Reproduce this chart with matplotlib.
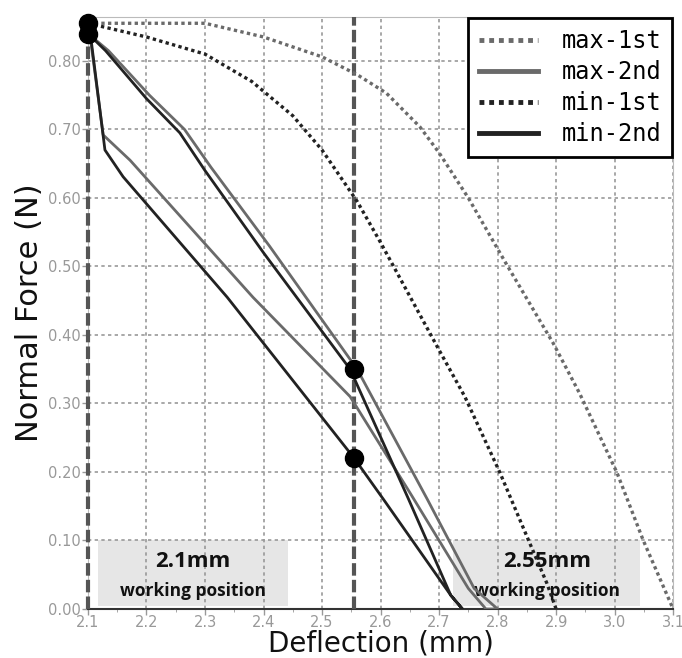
import numpy as np
import matplotlib.pyplot as plt
from matplotlib.patches import Rectangle

# Curvas (deflexión en mm, fuerza en N)
max1_x = [2.10, 2.20, 2.30, 2.40, 2.50, 2.56, 2.61, 2.667, 2.70, 2.75, 2.816, 2.895, 2.94, 3.004, 3.049, 3.10]
max1_y = [0.855, 0.855, 0.855, 0.835, 0.806, 0.78, 0.753, 0.704, 0.666, 0.60, 0.502, 0.388, 0.315, 0.199, 0.10, 0.0]

min1_x = [2.10, 2.20, 2.30, 2.38, 2.45, 2.50, 2.56, 2.60, 2.70, 2.744, 2.804, 2.855, 2.884, 2.90]
min1_y = [0.855, 0.835, 0.81, 0.77, 0.72, 0.67, 0.595, 0.535, 0.378, 0.31, 0.199, 0.096, 0.038, 0.0]

# ciclo carga / descarga (2do ensayo)
max2_x = [2.10, 2.135, 2.205, 2.265, 2.31, 2.41, 2.56, 2.68, 2.76, 2.80,
          2.78, 2.75, 2.65, 2.548, 2.382, 2.172, 2.126, 2.103]
max2_y = [0.84, 0.815, 0.75, 0.70, 0.645, 0.53, 0.35, 0.16, 0.03, 0.0,
          0.0, 0.03, 0.17, 0.31, 0.455, 0.655, 0.692, 0.84]

min2_x = [2.10, 2.13, 2.20, 2.257, 2.30, 2.40, 2.548, 2.648, 2.72, 2.74,
          2.72, 2.605, 2.555, 2.338, 2.16, 2.129, 2.104]
min2_y = [0.84, 0.815, 0.745, 0.695, 0.64, 0.52, 0.35, 0.16, 0.02, 0.0,
          0.02, 0.16, 0.22, 0.455, 0.631, 0.67, 0.84]

puntos_x = [2.1, 2.1, 2.555, 2.555]
puntos_y = [0.855, 0.84, 0.35, 0.22]

posiciones = [2.1, 2.555]
etiquetas = ["2.1mm", "2.55mm"]
cajas_x = [(2.117, 2.442), (2.724, 3.044)]

x_ticks = [2.1, 2.2, 2.3, 2.4, 2.5, 2.6, 2.7, 2.8, 2.9, 3.0, 3.1]
y_ticks = [0.0, 0.1, 0.2, 0.3, 0.4, 0.5, 0.6, 0.7, 0.8]

gris = '#6a6a6a'
negro = '#222222'

fig = plt.figure(figsize=(6.82, 6.58), dpi=100)
ax = fig.add_axes([0.129, 0.0745, 0.858, 0.8995])

# Cajas de posicion de trabajo
for (x0, x1), txt in zip(cajas_x, etiquetas):
    ax.add_patch(Rectangle((x0, 0.005), x1 - x0, 0.095, facecolor='#e6e6e6',
                           edgecolor='none', zorder=1))
    xc = (x0 + x1) / 2
    ax.text(xc, 0.07, txt, ha='center', va='center', fontsize=16,
            fontweight='bold', family='Open Sans', color='#111111', zorder=2)
    ax.text(xc, 0.026, "working position", ha='center', va='center', fontsize=12.5,
            fontweight='bold', family='Open Sans', color='#111111', zorder=2)

# Lineas verticales discontinuas
for xp in posiciones:
    ax.axvline(xp, color='#555555', lw=3, linestyle=(0, (3, 1)), zorder=3, clip_on=False)

ax.plot(max1_x, max1_y, color=gris, lw=2.4, linestyle=(0, (1, 1)), label='max-1st', zorder=4)
ax.plot(max2_x, max2_y, color=gris, lw=2, label='max-2nd', zorder=4)
ax.plot(min1_x, min1_y, color=negro, lw=2.4, linestyle=(0, (1, 1)), label='min-1st', zorder=4)
ax.plot(min2_x, min2_y, color=negro, lw=2, label='min-2nd', zorder=4)

ax.plot(puntos_x, puntos_y, 'o', color='black', markersize=13, zorder=6, clip_on=False)

ax.set_xlim(2.1, 3.1)
ax.set_ylim(0, 0.864)
ax.set_xticks(x_ticks)
ax.set_xticklabels([f"{v:.1f}" for v in x_ticks])
ax.set_yticks(y_ticks)
ax.set_yticklabels([f"{v:.2f}" for v in y_ticks])
ax.set_xticks(np.arange(2.15, 3.1, 0.1), minor=True)
ax.tick_params(axis='both', labelsize=10.5, colors='#999999', length=4, width=1)
ax.tick_params(axis='x', which='minor', length=2, color='#999999')
ax.tick_params(axis='x', pad=0)
ax.tick_params(axis='y', pad=1)
ax.grid(True, color='#999999', linestyle=(0, (2, 2)), lw=1.2)
for s in ax.spines.values():
    s.set_color('#bbbbbb')
ax.spines['bottom'].set_color('#333333')
ax.spines['bottom'].set_linewidth(1.5)

ax.set_xlabel("Deflection (mm)", fontsize=20, color='#111111', labelpad=0)
ax.set_ylabel("Normal Force (N)", fontsize=22, color='#111111', labelpad=3)

leg = ax.legend(loc='upper right', prop={'family': 'DejaVu Sans Mono', 'size': 17},
                fancybox=False, framealpha=1, edgecolor='black', handlelength=2.5,
                handletextpad=1.0, borderaxespad=0.05, labelspacing=0.3, borderpad=0.45)
leg.get_frame().set_linewidth(2)
for h in leg.get_lines():
    h.set_linewidth(3.5)

plt.savefig('out.png', dpi=100)
